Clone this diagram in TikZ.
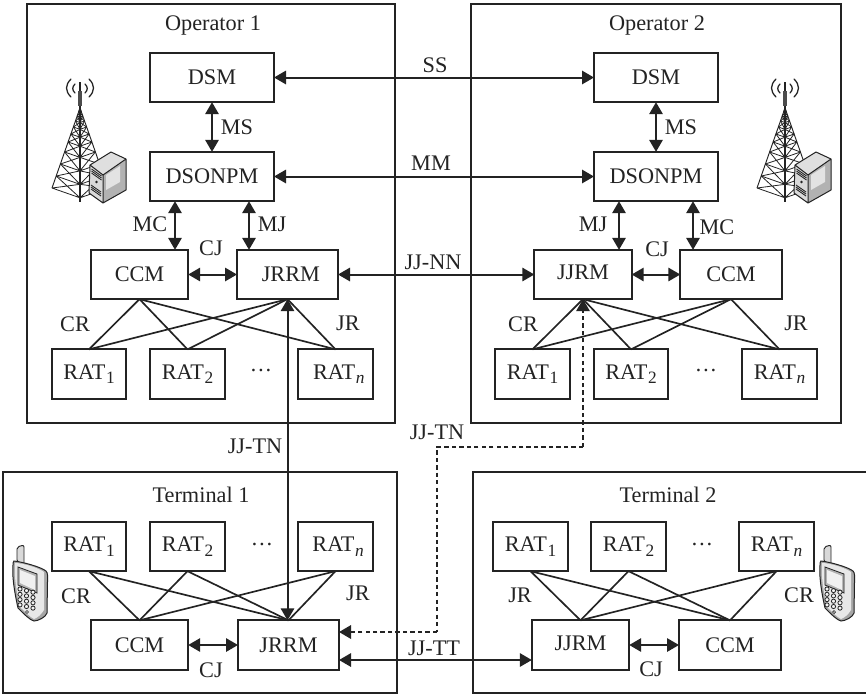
\documentclass[tikz,border=0pt]{standalone}
\usepackage{fontspec}
\setmainfont{Liberation Serif}
\usetikzlibrary{arrows.meta}
\definecolor{ink}{HTML}{232323}
\newcommand{\subt}[1]{\raisebox{-3.4pt}{\fontsize{13}{14}\selectfont #1}}
\newcommand{\ratone}{RAT\kern0.5pt\subt{1}}
\newcommand{\rattwo}{RAT\kern0.5pt\subt{2}}
\newcommand{\ratn}{RAT\kern0.5pt\subt{\itshape n}}
\newcommand{\hdots}{\raisebox{4.4pt}{…}}
\tikzset{
  x=0.75pt,y=-0.75pt,
  every node/.style={text=ink,font=\fontsize{16.7}{18}\selectfont,inner sep=0pt,outer sep=0pt},
  framebox/.style={draw=ink,line width=1.4pt,rectangle,anchor=north west},
  unit/.style={draw=ink,line width=1.4pt,rectangle},
  wide/.style={unit,minimum width=93pt,minimum height=37pt},
  mid/.style={unit,minimum width=73pt,minimum height=37pt},
  rat/.style={unit,minimum width=56pt,minimum height=37pt},
  dbl/.style={draw=ink,line width=1.5pt,{Triangle[length=9pt,width=10pt]}-{Triangle[length=9pt,width=10pt]}},
  dshline/.style={draw=ink,line width=1.7pt,dash pattern=on 3.2pt off 2.4pt},
  dsh/.style={dshline,-{Triangle[length=9pt,width=10pt]}},
  link/.style={draw=ink,line width=1.25pt},
  tower/.pic={
    \draw[ink,line width=0.9pt] (0,0)--(0,120);
    \draw[gray!60!black,line width=2.6pt] (0,9)--(0,24);
    \foreach \ya/\yb in {26/30,30/34,34/39,39/45,45/52,52/60,60/70,70/82,82/94,94/106}{
      \pgfmathsetmacro{\wa}{28*(\ya-26)/80}
      \pgfmathsetmacro{\wb}{28*(\yb-26)/80}
      \pgfmathsetmacro{\ca}{\ya+0.35*\wa}
      \pgfmathsetmacro{\cb}{\yb+0.35*\wb}
      \draw[ink,line width=0.7pt] (-\wa,\ya)--(-\wb,\yb) (\wa,\ya)--(\wb,\yb);
      \draw[ink,line width=0.6pt] (-\wb,\yb)--(0,\cb)--(\wb,\yb)
        (-\wa,\ya)--(0,\cb)--(\wa,\ya) (-\wb,\yb)--(0,\ca)--(\wb,\yb);
    }
    \draw[ink,line width=0.95pt,line cap=round]
      (-5,2) .. controls (-8,5) and (-8,8) .. (-5,11)
      (5,2) .. controls (8,5) and (8,8) .. (5,11)
      (-9,-3) .. controls (-15,3) and (-15,9) .. (-9,15)
      (9,-3) .. controls (15,3) and (15,9) .. (9,15);
    \fill[gray!25] (31,70)--(10,83)--(23,93)--(46,77)--cycle;
    \fill[gray!60] (23,93)--(46,77)--(46,108)--(23,121)--cycle;
    \fill[gray!22] (26,93)--(40,84)--(40,100)--(26,108)--cycle;
    \fill[gray!30] (10,83)--(23,93)--(23,121)--(9,111)--cycle;
    \draw[ink,line width=0.75pt,line join=round] (31,70)--(10,83)--(9,111)--(23,121)--(46,108)--(46,77)--cycle
      (10,83)--(23,93)--(46,77) (23,93)--(23,121);
    \foreach \v in {0,2,4}{\draw[ink,line width=0.65pt] (11.5,87+\v)--(21.5,94+\v);}
    \foreach \v in {0,2,4}{\draw[ink,line width=0.65pt] (11,103+\v)--(21,110+\v);}
    \fill[ink] (16.5,100) circle[radius=1.4];
  },
  phone/.pic={
    \draw[ink,fill=gray!30,line width=0.7pt,rounded corners=1.5pt] (4,2)--(4,-13)--(11,-15)--(11,5)--cycle;
    \draw[ink,fill=gray!70,line width=0.75pt] (1,1) .. controls (10,2) and (28,7) .. (33,11) .. controls (35,13) and (34.5,16) .. (34.5,22)
      -- (34,53) .. controls (33,57) and (25,61) .. (21,61) .. controls (17,60) and (12,55) .. (5,48)
      .. controls (1,30) and (-1,15) .. (0,5) .. controls (0,3) and (0,2) .. (1,1) -- cycle;
    \fill[gray!18] (2,3) .. controls (10,3) and (26,8) .. (31,12) -- (31,50) .. controls (28,55) and (24,58) .. (21,59) .. controls (17,57) and (12,52) .. (7,47) .. controls (3,30) and (1,15) .. (2,3) -- cycle;
    \draw[ink,fill=gray!60,line width=0.6pt] (5,7)--(24,14)--(24,33)--(5,25)--cycle;
    \fill[gray!12] (7,10)--(22,16)--(22,30)--(7,23)--cycle;
    \foreach \c in {0,1,2}{\foreach \r in {0,1,2,3}{
      \draw[ink,fill=gray!10,line width=0.6pt] ({7+6.5*\c},{29+5.3*\r+1.6*\c}) circle[radius=2.1];
    }}
    \draw[ink,fill=gray!10,line width=0.5pt] (14,52) circle[radius=1.5];
  }
}
\begin{document}
\begin{tikzpicture}
\useasboundingbox (0,0) rectangle (866,697);
\fill[white] (0,0) rectangle (866,697);
% frames
\node[framebox,minimum width=276pt,minimum height=314pt] (op1) at (27,4) {};
\node[framebox,minimum width=277.5pt,minimum height=314pt] (op2) at (471,4) {};
\node[framebox,minimum width=295.5pt,minimum height=165.75pt] (te1) at (3,472) {};
\draw[ink,line width=1.4pt] (866,472)--(473,472)--(473,693)--(866,693);
% titles
\node (t1) at (213,25) {Operator 1};
\node (t2) at (657,25) {Operator 2};
\node (t3) at (201,495) {Terminal 1};
\node (t4) at (668,495) {Terminal 2};
% icons
\pic at (80,82) {tower};
\pic at (785,82) {tower};
\pic at (13,560) {phone};
\pic at (820,560) {phone};
% Operator 1
\node[wide] (dsmA) at (212,77.5) {DSM};
\node[wide] (sonA) at (212,176.5) {DSONPM};
\node[mid] (ccmA) at (139.5,274.5) {CCM};
\node[mid,minimum width=75.75pt] (jrmA) at (287.5,274.5) {\hspace*{5pt}JRRM};
\node[rat] (r1A) at (89,374) {\ratone};
\node[rat] (r2A) at (187.5,374) {\rattwo};
\node[rat] (rnA) at (335.5,374) {\hspace*{5pt}\ratn};
\node (dotsA) at (261,373) {\hdots};
% Operator 2
\node[wide] (dsmB) at (656,77.5) {DSM};
\node[wide] (sonB) at (656,176.5) {DSONPM};
\node[mid] (jjmB) at (583,274.5) {\raisebox{3pt}{JJRM}};
\node[mid,minimum width=76pt] (ccmB) at (731,274.5) {CCM};
\node[rat] (r1B) at (532.5,374) {\ratone};
\node[rat] (r2B) at (631,374) {\rattwo};
\node[rat] (rnB) at (779.5,374) {\ratn};
\node (dotsB) at (706,373) {\hdots};
% Terminal 1
\node[rat] (r1C) at (89,546.5) {\ratone};
\node[rat] (r2C) at (187.5,546.5) {\rattwo};
\node[rat] (rnC) at (335.5,546.5) {\hspace*{4pt}\ratn};
\node (dotsC) at (262,547) {\hdots};
\node[mid] (ccmC) at (139.5,645) {CCM};
\node[mid,minimum width=75.75pt] (jrmC) at (288.5,645) {JRRM};
% Terminal 2
\node[rat] (r1D) at (530.5,546.5) {\ratone};
\node[rat] (r2D) at (628.5,546.5) {\rattwo};
\node[rat] (rnD) at (776.5,546.5) {\ratn};
\node (dotsD) at (702,547) {\hdots};
\node[mid] (jjmD) at (580.5,645) {\raisebox{2pt}{JJRM}};
\node[mid,minimum width=76.5pt] (ccmD) at (730,645) {CCM};
% helper coordinates
\coordinate (mcA) at (175,0);
\coordinate (mjA) at (249,0);
\coordinate (mjB) at (619,0);
\coordinate (mcB) at (693,0);
\coordinate (bendA) at (583,447);
\coordinate (bendB) at (437,447);
\coordinate (dashY) at (0,632);
\coordinate (ttY) at (0,660);
% fan-out lines
\foreach \r in {r1A,r2A,rnA}{
  \draw[link] (ccmA.south)--(\r.north);
  \draw[link] (jrmA.south)--(\r.north);
}
\foreach \r in {r1B,r2B,rnB}{
  \draw[link] (jjmB.south)--(\r.north);
  \draw[link] (ccmB.south)--(\r.north);
}
\foreach \r in {r1C,r2C,rnC}{
  \draw[link] (ccmC.north)--(\r.south);
  \draw[link] (jrmC.north)--(\r.south);
}
\foreach \r in {r1D,r2D,rnD}{
  \draw[link] (jjmD.north)--(\r.south);
  \draw[link] (ccmD.north)--(\r.south);
}
% arrows
\draw[dbl] (dsmA.east)--(dsmB.west);
\draw[dbl] (sonA.east)--(sonB.west);
\draw[dbl] (jrmA.east)--(jjmB.west);
\draw[dbl] (dsmA.south)--(sonA.north);
\draw[dbl] (dsmB.south)--(sonB.north);
\draw[dbl] (sonA.south -| mcA)--(ccmA.north -| mcA);
\draw[dbl] (sonA.south -| mjA)--(jrmA.north -| mjA);
\draw[dbl] (sonB.south -| mjB)--(jjmB.north -| mjB);
\draw[dbl] (sonB.south -| mcB)--(ccmB.north -| mcB);
\draw[dbl] (ccmA.east)--(jrmA.west);
\draw[dbl] (jjmB.east)--(ccmB.west);
\draw[dbl] (ccmC.east)--(jrmC.west);
\draw[dbl] (jjmD.east)--(ccmD.west);
\draw[dbl] (jrmA.south)--(jrmA.south |- jrmC.north);
\draw[dsh] (bendA)--(jjmB.south);
\draw[dshline] (bendA)--(bendB)--(bendB |- dashY);
\draw[dsh] (bendB |- dashY)--(jrmC.east |- dashY);
\draw[dbl] (jrmC.east |- ttY)--(jjmD.west |- ttY);
% labels
\node (lss) at (435,65) {SS};
\node (lmm) at (431,163) {MM};
\node (lnn) at (433,262) {JJ-NN};
\node (ltn1) at (255,446) {JJ-TN};
\node (ltn2) at (437,432) {JJ-TN};
\node (ltt) at (434,648) {JJ-TT};
\node (lmsA) at (237,127) {MS};
\node (lmsB) at (681,127) {MS};
\node (lmcA) at (150,224) {MC};
\node (lmjA) at (272,224) {MJ};
\node (lmjB) at (593,224) {MJ};
\node (lmcB) at (717,227) {MC};
\node (lcjA) at (211,248) {CJ};
\node (lcjB) at (657,249) {CJ};
\node (lcjC) at (211,670) {CJ};
\node (lcjD) at (651,669) {CJ};
\node (lcrA) at (75,324) {CR};
\node (ljrA) at (348,323) {JR};
\node (lcrB) at (523,324) {CR};
\node (ljrB) at (796,323) {JR};
\node (lcrC) at (76,596) {CR};
\node (ljrC) at (358,593) {JR};
\node (ljrD) at (520,595) {JR};
\node (lcrD) at (799,595) {CR};
\end{tikzpicture}
\end{document}
